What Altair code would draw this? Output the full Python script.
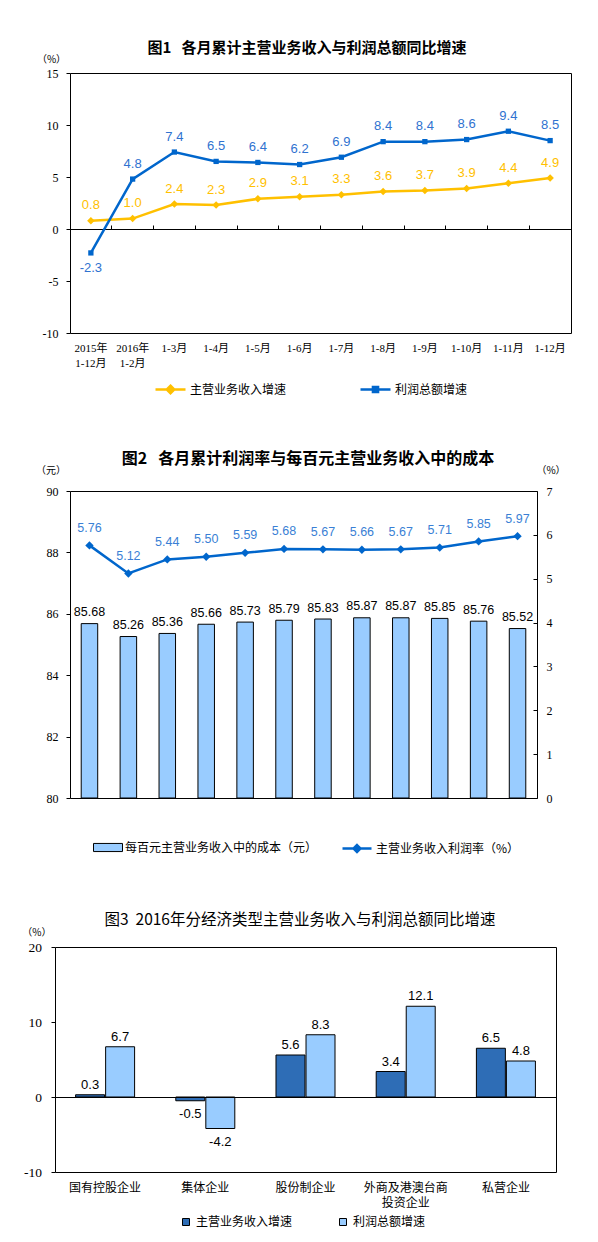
import altair as alt
import pandas as pd

# 图1 各月累计主营业务收入与利润总额同比增速
months = ['2015年\n1-12月', '2016年\n1-2月', '1-3月', '1-4月', '1-5月', '1-6月',
          '1-7月', '1-8月', '1-9月', '1-10月', '1-11月', '1-12月']
revenue_growth = [0.8, 1.0, 2.4, 2.3, 2.9, 3.1, 3.3, 3.6, 3.7, 3.9, 4.4, 4.9]
profit_growth = [-2.3, 4.8, 7.4, 6.5, 6.4, 6.2, 6.9, 8.4, 8.4, 8.6, 9.4, 8.5]
series1 = ['主营业务收入增速', '利润总额增速']

# 图2 各月累计利润率与每百元主营业务收入中的成本
cost_per_100 = [85.68, 85.26, 85.36, 85.66, 85.73, 85.79, 85.83, 85.87, 85.87, 85.85, 85.76, 85.52]
profit_margin = [5.76, 5.12, 5.44, 5.50, 5.59, 5.68, 5.67, 5.66, 5.67, 5.71, 5.85, 5.97]
series2 = ['每百元主营业务收入中的成本（元）', '主营业务收入利润率（%）']

# 图3 2016年分经济类型主营业务收入与利润总额同比增速
ownership = ['国有控股企业', '集体企业', '股份制企业', '外商及港澳台商\n投资企业', '私营企业']
own_revenue = [0.3, -0.5, 5.6, 3.4, 6.5]
own_profit = [6.7, -4.2, 8.3, 12.1, 4.8]
series3 = ['主营业务收入增速', '利润总额增速']

YELLOW = '#FFC000'
BLUE = '#0066CC'
BLUE_TEXT = '#2F72D0'
LIGHT = '#99CCFF'
DARK = '#2E6DB6'

CJK = 'Noto Sans CJK SC'
SERIF = 'Liberation Serif'
SANS = 'Liberation Sans'
CAT = 'Liberation Serif, Noto Sans CJK SC'
SPLIT = "split(datum.label, '\\n')"
MINUS = "replace(datum.label, '\u2212', '-')"
DIAMOND = 'M0,-0.25L0.25,0L0,0.25L-0.25,0Z'
SQUARE = 'M-0.17,-0.17H0.17V0.17H-0.17Z'
GAP = '\u00a0\u00a0\u00a0'


def y_axis(values, title, tx, ty, size=12, orient='left', offset=0, pad=8, domain=False):
    return alt.Axis(orient=orient, offset=offset, values=values, title=title, titleAngle=0,
                    titleX=tx, titleY=ty, titleAlign='center', titleBaseline='middle',
                    titleFont=CJK, titleFontSize=10, titleFontWeight='normal', titleColor='black',
                    labelFont=SERIF, labelFontSize=size, labelColor='black', labelPadding=pad,
                    labelExpr=MINUS, tickSize=4, tickColor='black', domain=domain,
                    domainColor='black', grid=False, zindex=1)


def line_legend(lx, ly, color, marker, size=900):
    return alt.Legend(orient='none', legendX=lx, legendY=ly, title=None, padding=0,
                      symbolType='M-1,0H1' + marker, symbolSize=size, symbolStrokeWidth=2.5,
                      symbolStrokeColor=color, symbolFillColor=color, labelLimit=400,
                      labelFont=CJK, labelFontSize=12, labelColor='black', labelOffset=3)


def label_calc(fmt):
    return "replace(format(datum.value, '" + fmt + "'), '\u2212', '-')"


def panel_title(text, size, weight, dx, dy):
    return alt.Title(text, font=CJK, fontSize=size, fontWeight=weight, color='black',
                     anchor='middle', frame='group', dx=dx, dy=dy, offset=0)


def spacer(w, h):
    return alt.Chart(pd.DataFrame({'s': [0]})).mark_point(opacity=0, size=1).encode(
        x=alt.value(w / 2), y=alt.value(h / 2)
    ).properties(width=w, height=h, view=alt.ViewBackground(stroke='transparent'))


# ---------- chart 1 ----------
W1, H1 = 501, 260
Y1_DOMAIN = [-10, 15]
zero1 = H1 * Y1_DOMAIN[1] / (Y1_DOMAIN[1] - Y1_DOMAIN[0])

rev_df = pd.DataFrame({'month': months, 'value': revenue_growth, 'series': series1[0]})
pro_df = pd.DataFrame({'month': months, 'value': profit_growth, 'series': series1[1]})

x1_scale = alt.Scale(type='band', paddingInner=0, paddingOuter=0)
x1 = alt.X('month:N', sort=months, title=None, scale=x1_scale,
           axis=alt.Axis(orient='bottom', labelExpr=SPLIT, labelAngle=0, labelFont=CAT,
                         labelFontSize=11, labelLineHeight=15, labelPadding=9, labelColor='black',
                         ticks=False, domain=False, grid=False))
x1_zero = alt.X('month:N', sort=months, title=None, scale=x1_scale,
                axis=alt.Axis(orient='top', offset=-zero1, labels=False, bandPosition=0,
                              tickSize=4, tickColor='black', domainColor='black', grid=False))
x1_plain = alt.X('month:N', sort=months, scale=x1_scale, axis=None)
y1_scale = alt.Scale(domain=Y1_DOMAIN, nice=False, zero=False)
y1 = alt.Y('value:Q', scale=y1_scale, axis=y_axis([-10, -5, 0, 5, 10, 15], '（%）', -19, -14))
y1_plain = alt.Y('value:Q', scale=y1_scale, axis=None)

rev_line = alt.Chart(rev_df).mark_line(strokeWidth=2.5).encode(
    x=x1, y=y1,
    color=alt.Color('series:N', scale=alt.Scale(domain=[series1[0]], range=[YELLOW]),
                    legend=line_legend(84, 300, YELLOW, DIAMOND)))
rev_pts = alt.Chart(rev_df).mark_point(shape='diamond', filled=True, size=56, color=YELLOW, opacity=1).encode(
    x=x1_plain, y=y1_plain)
rev_txt = alt.Chart(rev_df).transform_calculate(label=label_calc('.1f')).mark_text(
    dy=-15.5, color=YELLOW, font=SANS, fontSize=13).encode(x=x1_plain, y=y1_plain, text='label:N')

pro_line = alt.Chart(pro_df).mark_line(strokeWidth=2.5).encode(
    x=x1_zero, y=y1_plain,
    color=alt.Color('series:N', scale=alt.Scale(domain=[series1[1]], range=[BLUE]),
                    legend=line_legend(289, 300, BLUE, SQUARE)))
pro_pts = alt.Chart(pro_df).mark_point(shape='square', filled=True, size=28, color=BLUE, opacity=1).encode(
    x=x1_plain, y=y1_plain)
pro_txt_up = alt.Chart(pro_df).transform_filter('datum.value >= 0').transform_calculate(
    label=label_calc('.1f')).mark_text(dy=-15.5, color=BLUE_TEXT, font=SANS, fontSize=13).encode(
    x=x1_plain, y=y1_plain, text='label:N')
pro_txt_down = alt.Chart(pro_df).transform_filter('datum.value < 0').transform_calculate(
    label=label_calc('.1f')).mark_text(dy=15, color=BLUE_TEXT, font=SANS, fontSize=13).encode(
    x=x1_plain, y=y1_plain, text='label:N')

chart1 = alt.layer(rev_line, rev_pts, rev_txt, pro_line, pro_pts, pro_txt_up, pro_txt_down).resolve_scale(
    color='independent'
).resolve_axis(
    x='independent', y='independent'
).properties(
    width=W1, height=H1,
    title=panel_title('图1' + GAP + '各月累计主营业务收入与利润总额同比增速', 15, 'bold', -13.5, 2)
)

# ---------- chart 2 ----------
W2, H2 = 467, 307
cost_df = pd.DataFrame({'month': months, 'value': cost_per_100, 'series': series2[0]})
margin_df = pd.DataFrame({'month': months, 'value': profit_margin, 'series': series2[1]})

x2_scale = alt.Scale(type='band', paddingInner=0, paddingOuter=0)
x2 = alt.X('month:N', sort=months, title=None, scale=x2_scale,
           axis=alt.Axis(orient='bottom', offset=-4, ticks=True, tickSize=4, tickColor='black',
                         bandPosition=0, domain=False, grid=False, labelExpr=SPLIT, labelAngle=0,
                         labelFont=CAT, labelFontSize=11, labelLineHeight=15, labelPadding=9.5,
                         labelColor='black'))
x2_plain = alt.X('month:N', sort=months, scale=x2_scale, axis=None)
cost_scale = alt.Scale(domain=[80, 90], nice=False, zero=False)
y_cost = alt.Y('value:Q', scale=cost_scale, axis=y_axis([80, 82, 84, 86, 88, 90], '（元）', -19.5, -20.5))
y_cost_plain = alt.Y('value:Q', scale=cost_scale, axis=None)
margin_scale = alt.Scale(domain=[0, 7], nice=False, zero=False)
y_margin = alt.Y('value:Q', scale=margin_scale,
                 axis=y_axis(list(range(8)), '（%）', 17.5, -20.5, orient='right', offset=-4, pad=9))
y_margin_plain = alt.Y('value:Q', scale=margin_scale, axis=None)

cost_bars = alt.Chart(cost_df).mark_bar(width=alt.RelativeBandSize(0.424), stroke='black', strokeWidth=1).encode(
    x=x2, y=y_cost, y2=alt.datum(80),
    color=alt.Color('series:N', scale=alt.Scale(domain=[series2[0]], range=[LIGHT]),
                    legend=alt.Legend(orient='none', legendX=23, legendY=341.5, title=None, padding=0,
                                      symbolType='M-1,-0.28H1V0.28H-1Z', symbolSize=841,
                                      symbolStrokeColor='black', symbolStrokeWidth=1, labelLimit=400,
                                      labelFont=CJK, labelFontSize=12, labelColor='black', labelOffset=2)))
cost_txt = alt.Chart(cost_df).transform_calculate(label=label_calc('.2f')).mark_text(
    dy=-11.5, color='black', font=SANS, fontSize=12.5).encode(x=x2_plain, y=y_cost_plain, text='label:N')
margin_line = alt.Chart(margin_df).mark_line(strokeWidth=2.5).encode(
    x=x2_plain, y=y_margin,
    color=alt.Color('series:N', scale=alt.Scale(domain=[series2[1]], range=[BLUE]),
                    legend=line_legend(271, 341.5, BLUE, 'M0,-0.24L0.24,0L0,0.24L-0.24,0Z', size=841)))
margin_pts = alt.Chart(margin_df).mark_point(shape='diamond', filled=True, size=70, color=BLUE, opacity=1).encode(
    x=x2_plain, y=y_margin_plain)
margin_txt = alt.Chart(margin_df).transform_calculate(label=label_calc('.2f')).mark_text(
    dy=-17.5, color='#3A7FD5', font=SANS, fontSize=12.5).encode(x=x2_plain, y=y_margin_plain, text='label:N')

chart2 = alt.layer(cost_bars, cost_txt, margin_line, margin_pts, margin_txt).resolve_scale(
    y='independent', color='independent'
).properties(
    width=W2, height=H2,
    title=panel_title('图2' + GAP + '各月累计利润率与每百元主营业务收入中的成本', 16, 'bold', 4.5, 1.5)
)

# ---------- chart 3 ----------
# this panel shares chart 2's left origin; its frame starts X3_LEFT px further left
W3, H3 = 486, 225
X3_LEFT = -15
Y3_DOMAIN = [-10, 20]
zero3 = H3 * Y3_DOMAIN[1] / (Y3_DOMAIN[1] - Y3_DOMAIN[0])
own_df = pd.concat([
    pd.DataFrame({'type': ownership, 'value': own_revenue, 'series': series3[0]}),
    pd.DataFrame({'type': ownership, 'value': own_profit, 'series': series3[1]}),
], ignore_index=True)

x3_scale = alt.Scale(range=[X3_LEFT, W3], paddingInner=0.411, paddingOuter=0.2055)
x3 = alt.X('type:N', sort=ownership, title=None, scale=x3_scale,
           axis=alt.Axis(orient='bottom', labelExpr=SPLIT, labelAngle=0, labelFont=CJK, labelFontSize=12,
                         labelLineHeight=15, labelPadding=10, labelColor='black',
                         ticks=False, domain=True, domainColor='black', grid=False, zindex=1))
x3_top = alt.X('type:N', sort=ownership, title=None, scale=x3_scale,
               axis=alt.Axis(orient='top', labels=False, ticks=False, domain=True, domainColor='black',
                             grid=False, zindex=1))
x3_zero = alt.X('type:N', sort=ownership, title=None, scale=x3_scale,
                axis=alt.Axis(orient='top', offset=-zero3, labels=False, ticks=False, domain=True,
                              domainColor='black', grid=False, zindex=1))
xo3 = alt.XOffset('series:N', sort=series3, scale=alt.Scale(paddingInner=0.035))
y3_scale = alt.Scale(domain=Y3_DOMAIN, nice=False)
y3 = alt.Y('value:Q', scale=y3_scale,
           axis=y_axis([-10, 0, 10, 20], '（%）', -18.7, -15, size=13.5, pad=9.5, offset=-X3_LEFT, domain=True))
y3_right = alt.Y('value:Q', scale=y3_scale, title=None,
                 axis=alt.Axis(orient='right', labels=False, ticks=False, domain=True, domainColor='black',
                               grid=False, zindex=1))
y3_plain = alt.Y('value:Q', scale=y3_scale, axis=None)

own_bars = alt.Chart(own_df).mark_bar(stroke='black', strokeWidth=1).encode(
    x=x3, xOffset=xo3, y=y3,
    color=alt.Color('series:N', sort=series3, scale=alt.Scale(domain=series3, range=[DARK, LIGHT]),
                    legend=alt.Legend(orient='none', direction='horizontal', legendX=110, legendY=269,
                                      title=None, padding=0, symbolType='square', symbolSize=49,
                                      symbolStrokeColor='black', symbolStrokeWidth=1, labelLimit=400,
                                      labelFont=CJK, labelFontSize=12, labelColor='black',
                                      labelOffset=4, columnPadding=44)))
own_txt_up = alt.Chart(own_df).transform_filter('datum.value >= 0').transform_calculate(
    label=label_calc('.1f')).mark_text(dy=-10, color='black', font=SANS, fontSize=13).encode(
    x=x3_top, xOffset=xo3, y=y3_right, text='label:N')
own_txt_down = alt.Chart(own_df).transform_filter('datum.value < 0').transform_calculate(
    label=label_calc('.1f')).mark_text(dy=13, color='black', font=SANS, fontSize=13).encode(
    x=x3_zero, xOffset=xo3, y=y3_plain, text='label:N')

chart3 = alt.layer(own_bars, own_txt_up, own_txt_down).resolve_axis(
    x='independent', y='independent'
).properties(
    width=W3, height=H3, view=alt.ViewBackground(stroke='transparent'),
    title=panel_title('图3\u00a0\u00a02016年分经济类型主营业务收入与利润总额同比增速', 15.5, 'normal', -13, 1)
)

chart = alt.concat(
    spacer(1, 1), spacer(1, 64),
    spacer(58, 1), chart1,
    spacer(1, 1), spacer(1, 158),
    spacer(61, 1), chart2,
    spacer(1, 1), spacer(1, 149),
    spacer(61, 1), chart3,
    columns=2, spacing=0, bounds='flush', align='none'
).resolve_scale(
    color='independent'
).properties(
    padding=0, background='white'
).configure_view(
    stroke='black', strokeWidth=1
)

chart.save("out.html", embed_options={"renderer": "svg", "actions": False})
